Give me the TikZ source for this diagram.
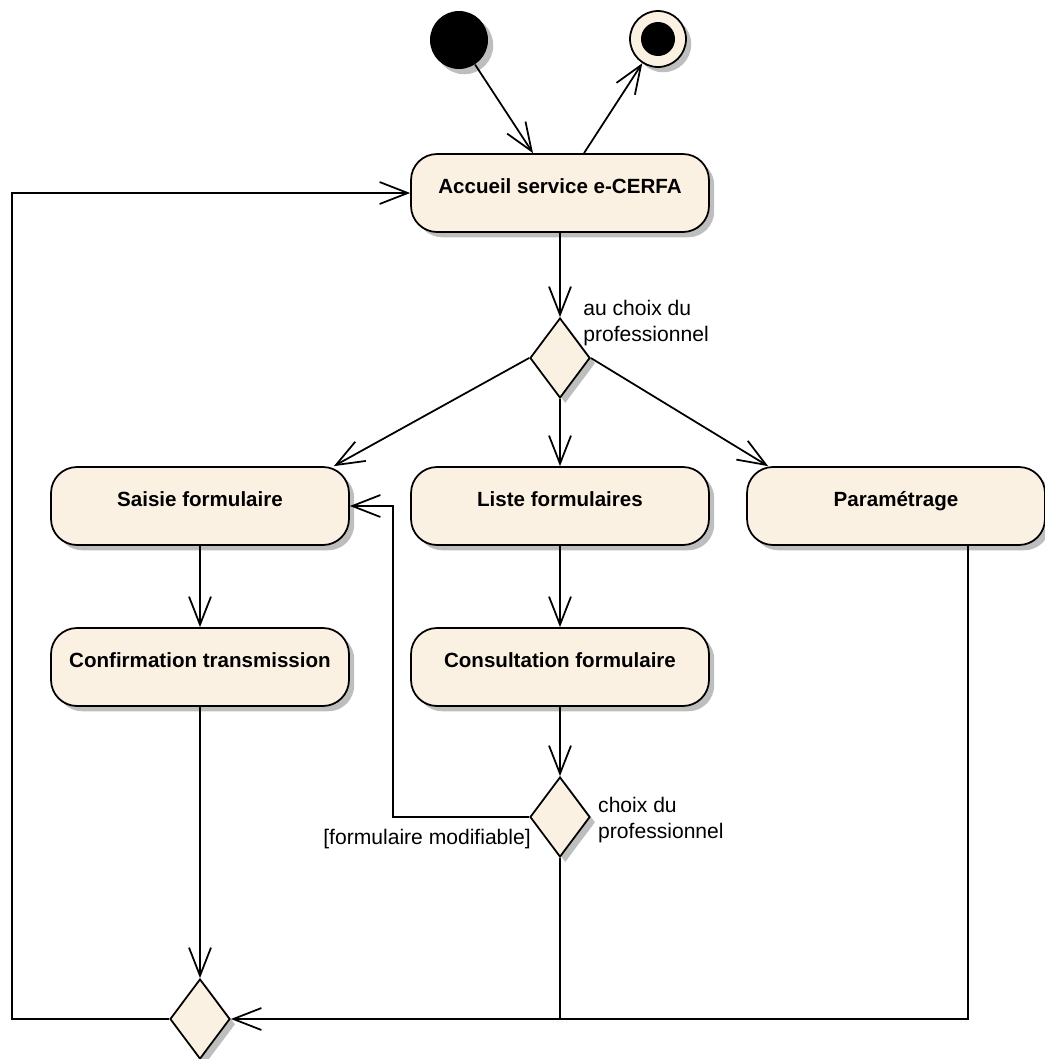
\documentclass[tikz,border=0pt]{standalone}
\usepackage{fontspec}
\setmainfont{Liberation Sans}
\usetikzlibrary{arrows.meta,calc,shapes.geometric,shadows}
\definecolor{actfill}{HTML}{FBF1E3}
\definecolor{shadowgray}{HTML}{BEBEBE}
\tikzset{
    every node/.style={font=\fontsize{12pt}{15pt}\selectfont},
    castshadow/.style={drop shadow={shadow xshift=3pt,shadow yshift=-3pt,fill=shadowgray,opacity=1}},
    activity/.style={rectangle,rounded corners=0.52cm,draw,line width=1pt,fill=actfill,castshadow,
        minimum width=5.96cm,minimum height=1.56cm,inner sep=0pt,
        font=\fontsize{11.7pt}{14pt}\selectfont\bfseries,text height=8pt,text depth=8pt},
    decision/.style={diamond,aspect=0.75,draw,line width=1pt,fill=actfill,castshadow,
        minimum width=1.2cm,minimum height=1.6cm,inner sep=0pt},
    startnode/.style={circle,fill=black,castshadow,minimum size=1.16cm,inner sep=0pt},
    endnode/.style={circle,draw,line width=1pt,fill=actfill,castshadow,minimum size=1.12cm,inner sep=0pt,
        path picture={\fill[black] (path picture bounding box.center) circle (0.34cm);}},
    flow/.style={draw,line width=1pt,-{Straight Barb[length=16pt,width=12.5pt]}},
    plain/.style={draw,line width=1pt},
    guard/.style={inner sep=0pt,align=left}
}
\begin{document}
\begin{tikzpicture}[x=0.02cm,y=-0.02cm]
\useasboundingbox (0,0) rectangle (1045,1059);
\node[startnode] (init) at (459,40) {};
\node[endnode] (final) at (658,39) {};
\node[activity] (accueil) at (560,193) {Accueil service e-CERFA};
\node[decision] (dec1) at (560,358) {};
\node[activity] (saisie) at (200,506) {Saisie formulaire};
\node[activity] (liste) at (560,506) {Liste formulaires};
\node[activity] (param) at (896,506) {Paramétrage};
\node[activity] (confirm) at (200,667) {Confirmation transmission};
\node[activity] (consult) at (560,667) {Consultation formulaire};
\node[decision] (dec2) at (560,817) {};
\node[decision] (dec3) at (200,1019) {};
\node[guard,anchor=west] (choix1) at ($(dec1.north)+(23,6)$) {au choix du\\professionnel};
\node[guard,anchor=west] (choix2) at ($(dec2.east)+(7,3)$) {choix du\\professionnel};
\node[guard,anchor=east] (modif) at ($(dec2.west)+(2,22)$) {[formulaire modifiable]};

\draw[flow] (init) -- ($(accueil.north)+(-27,0)$);
\draw[flow] ($(accueil.north)+(24,0)$) -- (final);
\draw[flow] (accueil.south) -- (dec1.north);
\draw[flow] (dec1.west) -- ($(saisie.north east)+(-16,0)$);
\draw[flow] (dec1.south) -- (liste.north);
\draw[flow] (dec1.east) -- ($(param.north west)+(22,0)$);
\draw[flow] (saisie.south) -- (confirm.north);
\draw[flow] (liste.south) -- (consult.north);
\draw[flow] (consult.south) -- (dec2.north);
\draw[flow] (dec2.west) -| ($(saisie.east)+(43,0)$) -- (saisie.east);
\draw[flow] (confirm.south) -- (dec3.north);
\draw[flow] (dec3.west) -| ($(accueil.west)+(-398,0)$) -- (accueil.west);
\draw[flow] ($(param.south)+(72,0)$) |- (dec3.east);
\draw[plain] (dec2.south) -- (dec2.south |- dec3.east);
\end{tikzpicture}
\end{document}
